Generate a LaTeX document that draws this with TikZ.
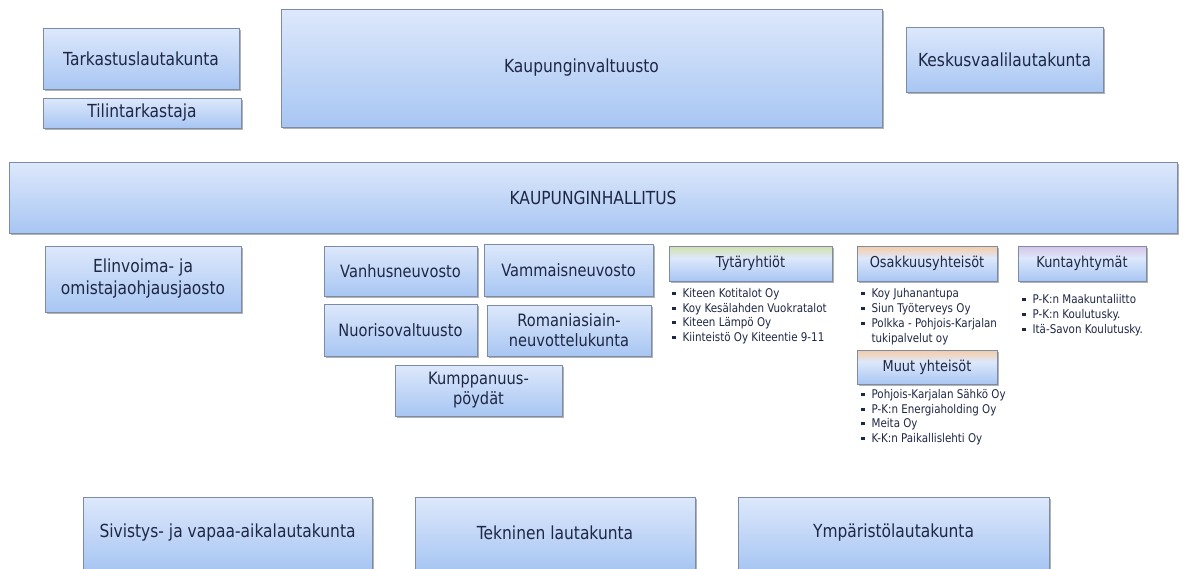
\documentclass[tikz,border=0pt]{standalone}
\usepackage{fontspec}
\setmainfont{DejaVu Sans}[FakeStretch=0.86]
\usetikzlibrary{shadows}
\definecolor{yla}{HTML}{DDE8FB}
\definecolor{ala}{HTML}{A8C6F3}
\definecolor{reuna}{HTML}{7D8CA5}
\definecolor{teksti}{HTML}{1E2744}
\definecolor{vihrea}{HTML}{D2E0A8}
\definecolor{persikka}{HTML}{F7CBA3}
\definecolor{lila}{HTML}{D6C4E6}
% otsikkolaatikoiden sävytys: värillinen yläreuna
\pgfdeclareverticalshading{tytasavy}{100bp}{color(0bp)=(ala); color(25bp)=(ala); color(58bp)=(yla); color(75bp)=(vihrea); color(100bp)=(vihrea)}
\pgfdeclareverticalshading{osakksavy}{100bp}{color(0bp)=(ala); color(25bp)=(ala); color(58bp)=(yla); color(75bp)=(persikka); color(100bp)=(persikka)}
\pgfdeclareverticalshading{kuntasavy}{100bp}{color(0bp)=(ala); color(25bp)=(ala); color(58bp)=(yla); color(75bp)=(lila); color(100bp)=(lila)}
\newcommand{\nelio}{\rule[0.35ex]{1.6pt}{1.6pt}}
\newcommand{\kohta}{\nelio\hspace{3.5pt}}
\newcommand{\jatko}{\phantom{\nelio}\hspace{3.5pt}}
\tikzset{
	perus/.style={draw=reuna, shade, text=teksti, align=center, inner sep=0pt,
		drop shadow={shadow xshift=1.2pt, shadow yshift=-1.2pt, fill=black, opacity=0.3},
		font=\fontsize{9}{11}\selectfont},
	laatikko/.style={perus, top color=yla, bottom color=ala},
	otsikko/.style={perus, shading=#1, font=\fontsize{7.5}{9}\selectfont},
	lista/.style={anchor=north west, inner sep=0pt, align=left, text=teksti,
		font=\fontsize{6}{7.3}\selectfont}
}
\begin{document}
\begin{tikzpicture}[x=0.5pt, y=-0.5pt]
	\useasboundingbox (0,0) rectangle (1183,568);
	
	% ylarivi
	\node[laatikko, minimum width=98pt, minimum height=30.5pt] (tark) at (141,58.5) {Tarkastuslautakunta};
	\node[laatikko, minimum width=99pt, minimum height=15pt] (tilin) at (142,113) {Tilintarkastaja};
	\node[laatikko, minimum width=300.5pt, minimum height=59pt] (valt) at (581.5,68) {Kaupunginvaltuusto};
	\node[laatikko, minimum width=98.5pt, minimum height=32.5pt] (keskus) at (1004.5,59.5) {Keskusvaalilautakunta};
	
	\node[laatikko, minimum width=584pt, minimum height=35.5pt] (hall) at (593,197.5) {KAUPUNGINHALLITUS};
	
	% jaosto ja neuvostot
	\node[laatikko, minimum width=98pt, minimum height=33pt] (elin) at (143,279) {Elinvoima- ja\\omistajaohjausjaosto};
	\node[laatikko, minimum width=76.5pt, minimum height=25pt, font=\fontsize{8.5}{10}\selectfont] (vanhus) at (400.5,271) {Vanhusneuvosto};
	\node[laatikko, minimum width=84.5pt, minimum height=26pt, font=\fontsize{8.5}{10}\selectfont] (vammais) at (568.5,270) {Vammaisneuvosto};
	\node[laatikko, minimum width=76.5pt, minimum height=26pt, font=\fontsize{8.5}{10}\selectfont] (nuoriso) at (400.5,330) {Nuorisovaltuusto};
	\node[laatikko, minimum width=82pt, minimum height=25.5pt, font=\fontsize{8.5}{10}\selectfont] (romania) at (569,330.5) {Romaniasiain-\\neuvottelukunta};
	\node[laatikko, minimum width=83.5pt, minimum height=25.5pt, font=\fontsize{8.5}{10}\selectfont] (kumpp) at (478.5,390.5) {Kumppanuus-\\pöydät};
	
	% yhteisot
	\node[otsikko=tytasavy, minimum width=81.5pt, minimum height=17.5pt] (tyta) at (750.5,263.5) {Tytäryhtiöt};
	\node[otsikko=osakksavy, minimum width=70pt, minimum height=17.5pt] (osakk) at (927,263.5) {Osakkuusyhteisöt};
	\node[otsikko=osakksavy, minimum width=70pt, minimum height=17pt] (muut) at (927,367) {Muut yhteisöt};
	\node[otsikko=kuntasavy, minimum width=64pt, minimum height=17.5pt] (kunta) at (1082,263.5) {Kuntayhtymät};
	
	\node[lista] (tytalista) at (672,288) {\kohta Kiteen Kotitalot Oy\\\kohta Koy Kesälahden Vuokratalot\\\kohta Kiteen Lämpö Oy\\\kohta Kiinteistö Oy Kiteentie 9-11};
	\node[lista, font=\fontsize{6}{7.5}\selectfont] (osakklista) at (861,288) {\kohta Koy Juhanantupa\\\kohta Siun Työterveys Oy\\\kohta Polkka - Pohjois-Karjalan\\\jatko tukipalvelut oy};
	\node[lista] (muutlista) at (861,389) {\kohta Pohjois-Karjalan Sähkö Oy\\\kohta P-K:n Energiaholding Oy\\\kohta Meita Oy\\\kohta K-K:n Paikallislehti Oy};
	\node[lista, font=\fontsize{6}{7.5}\selectfont] (kuntalista) at (1022,294) {\kohta P-K:n Maakuntaliitto\\\kohta P-K:n Koulutusky.\\\kohta Itä-Savon Koulutusky.};
	
	% lautakunnat
	\node[laatikko, minimum width=144.5pt, minimum height=36pt] (sivistys) at (227.5,533) {Sivistys- ja vapaa-aikalautakunta};
	\node[laatikko, minimum width=140pt, minimum height=36pt] (tekn) at (555,533) {Tekninen lautakunta};
	\node[laatikko, minimum width=155.5pt, minimum height=36pt] (ymp) at (893.5,533) {Ympäristölautakunta};
\end{tikzpicture}
\end{document}
